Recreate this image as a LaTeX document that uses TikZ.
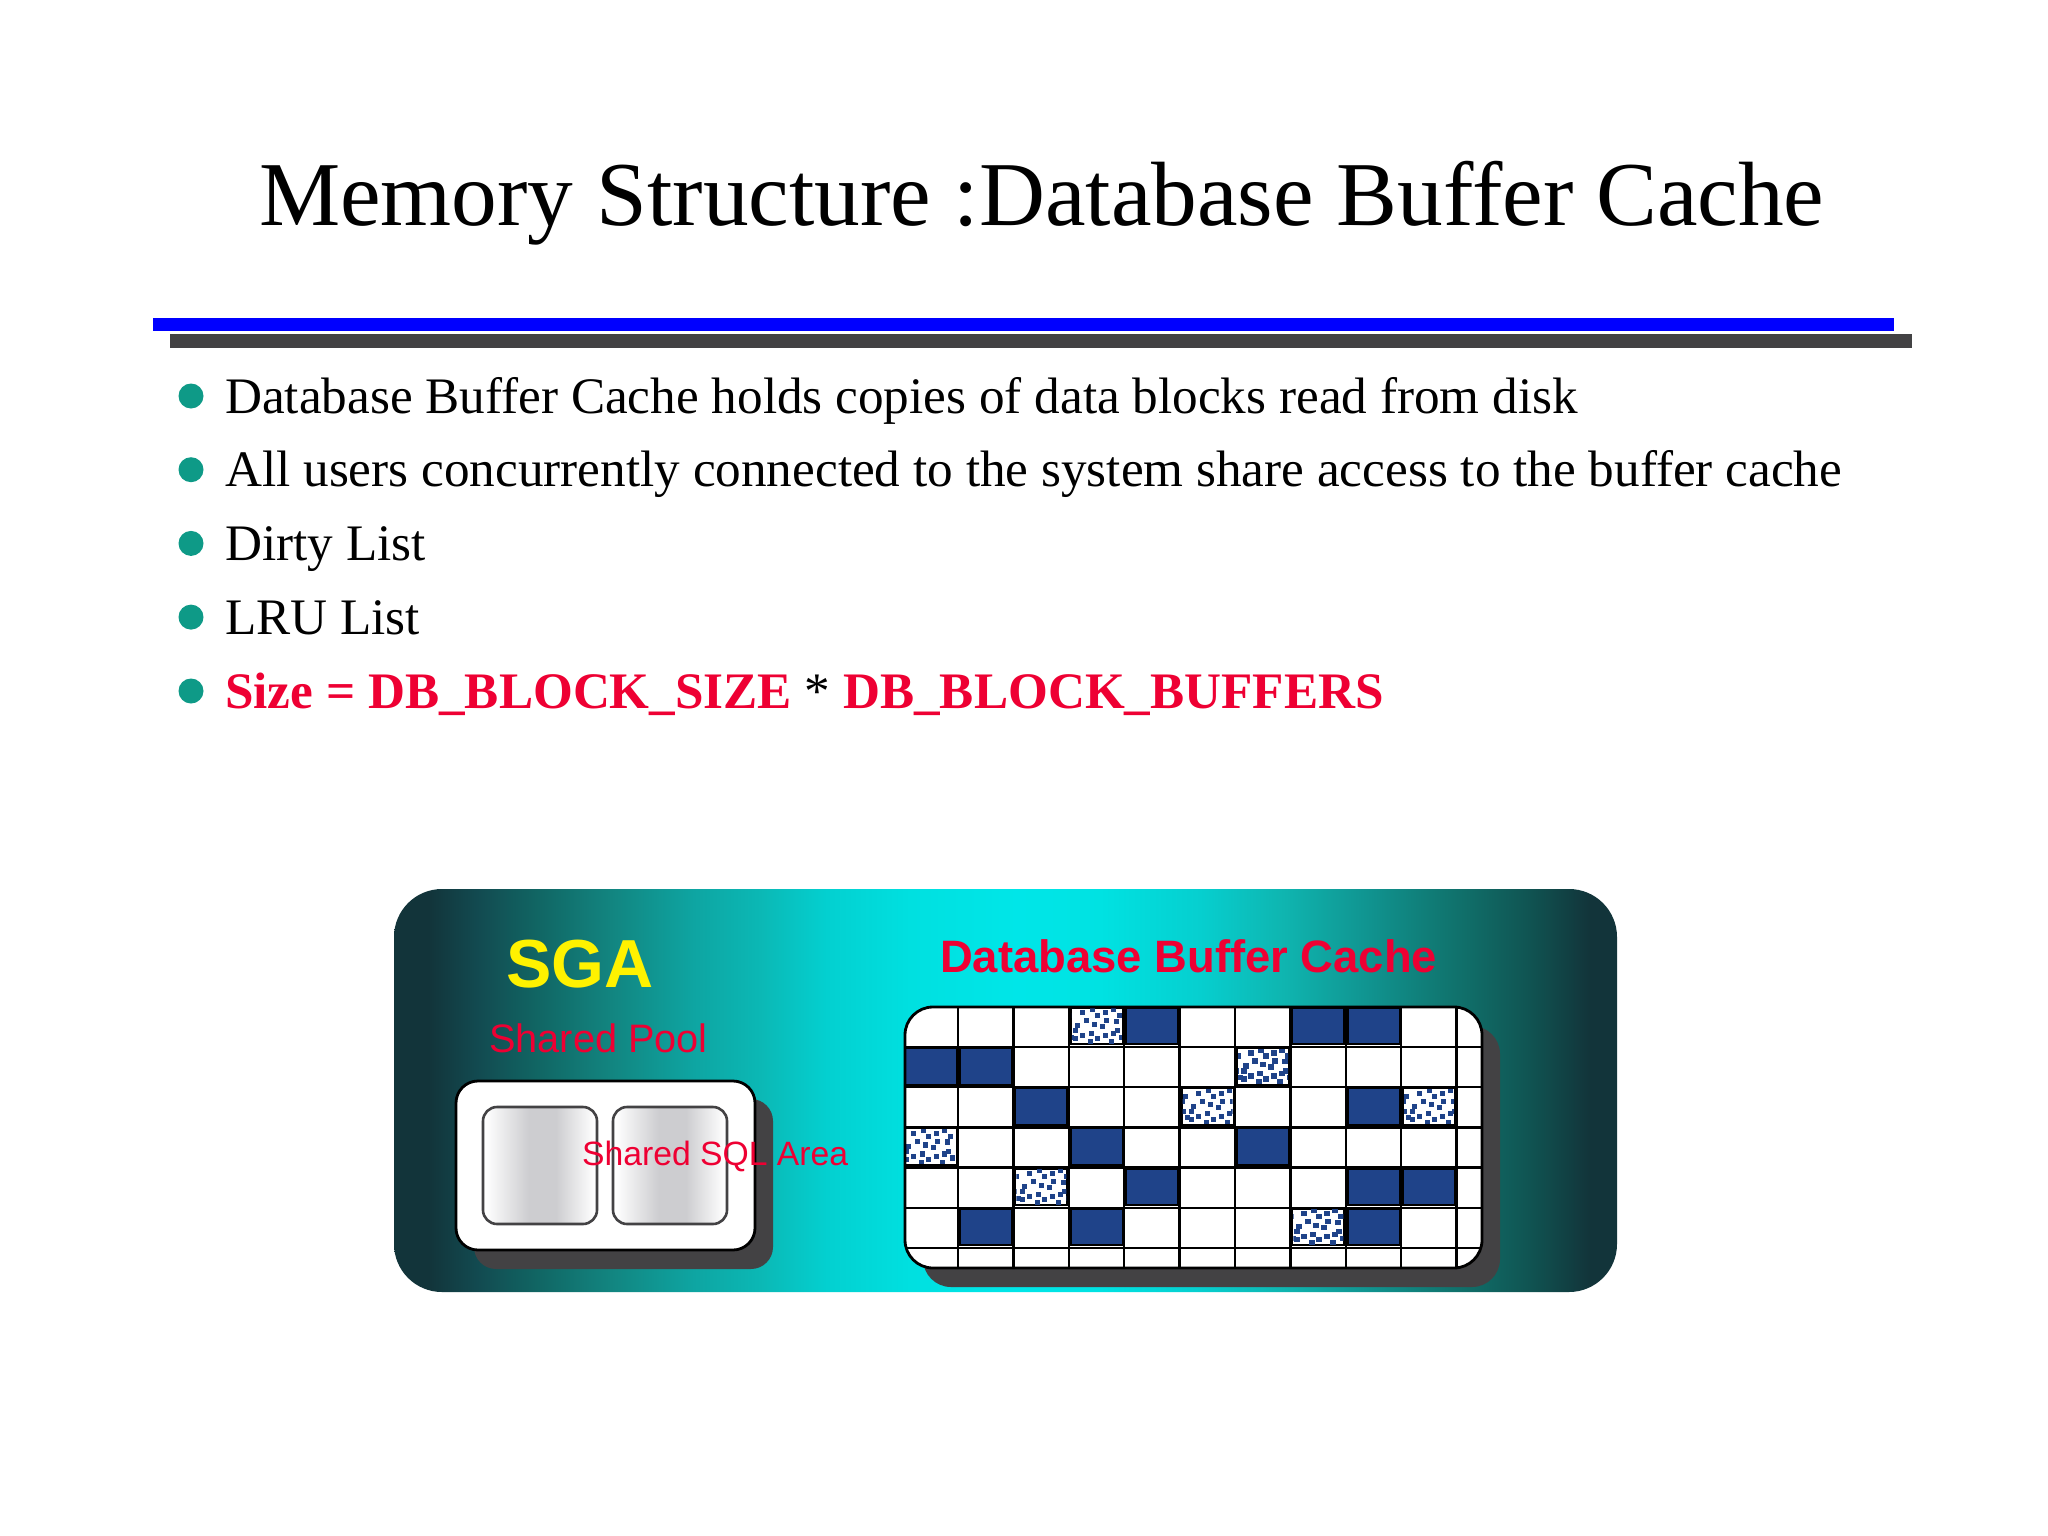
\documentclass[tikz,border=0pt]{standalone}
\usepackage{fontspec}
\setmainfont{Liberation Serif}
\setsansfont{Liberation Sans}
\definecolor{teal1}{HTML}{0E9A87}
\definecolor{redt}{HTML}{EE0033}
\definecolor{cellblue}{HTML}{1F4389}
\definecolor{shadowg}{HTML}{434244}
\definecolor{c0}{HTML}{12343A}
\definecolor{c1}{HTML}{124A50}
\definecolor{c2}{HTML}{116563}
\definecolor{c3}{HTML}{128580}
\definecolor{c4}{HTML}{0EA5A2}
\definecolor{c5}{HTML}{0BB8B5}
\definecolor{c6}{HTML}{03D0D0}
\definecolor{c7}{HTML}{00E0E0}
\definecolor{c8}{HTML}{00E6E8}
\definecolor{c9}{HTML}{00E2E2}
\definecolor{c10}{HTML}{06CFCF}
\definecolor{c11}{HTML}{0FB5B0}
\definecolor{c12}{HTML}{10928E}
\definecolor{c13}{HTML}{107670}
\definecolor{c14}{HTML}{105452}
\definecolor{c15}{HTML}{12343A}
\definecolor{hv}{HTML}{CDCDD0}
\pgfdeclarehorizontalshading{sgabar}{100bp}{
 color(0bp)=(c0);color(26.4bp)=(c0);color(28.4bp)=(c1);color(30.8bp)=(c2);color(33.87bp)=(c3);
 color(37.26bp)=(c4);color(39.96bp)=(c5);color(42.7bp)=(c6);color(46.1bp)=(c7);color(50.55bp)=(c8);
 color(53.86bp)=(c9);color(57.95bp)=(c10);color(61.35bp)=(c11);color(65bp)=(c12);color(68bp)=(c13);
 color(71.4bp)=(c14);color(73.9bp)=(c15);color(100bp)=(c15)}
\pgfdeclarehorizontalshading{silver}{100bp}{
 color(0bp)=(white);color(26bp)=(white);color(45bp)=(hv);color(57bp)=(hv);color(74bp)=(white);color(100bp)=(white)}
\tikzset{
 x=1pt,y=-1pt,
 bodytext/.style={anchor=base west,inner sep=0pt,font=\fontsize{51.2}{51.2}\selectfont},
 bulletdot/.style={circle,fill=teal1,inner sep=0pt,minimum size=25pt},
 panel/.style={rounded corners=22pt,fill=white,draw=black,line width=2.8pt},
 inner/.style={rounded corners=14pt,shading=silver,draw=shadowg,line width=2.6pt},
 shadowbox/.style={rounded corners=22pt,fill=shadowg},
 sanslabel/.style={anchor=base west,inner sep=0pt,text=redt},
}
\begin{document}
\begin{tikzpicture}
\useasboundingbox (0,0) rectangle (2048,1536);
\fill[white] (0,0) rectangle (2048,1536);
\node[anchor=base west,inner sep=0pt,font=\fontsize{91.3}{91.3}\selectfont] (title) at (259,225) {Memory Structure :Database Buffer Cache};
\fill[blue] (153,318) rectangle (1894,331);
\fill[shadowg] (170,334) rectangle (1912,348);
\foreach \i/\t in {0/Database Buffer Cache holds copies of data blocks read from disk,
  1/All users concurrently connected to the system share access to the buffer cache,
  2/Dirty List,3/LRU List}{
  \node[bulletdot] (b\i) at (191,396+73.7*\i) {};
  \node[bodytext] (t\i) at (225,413+73.7*\i) {\t};
}
\node[bulletdot] (b4) at (191,691) {};
\node[bodytext] (t4) at (225,708) {\bfseries\textcolor{redt}{Size = DB\_BLOCK\_SIZE} {\mdseries *} \textcolor{redt}{DB\_BLOCK\_BUFFERS}};
% SGA
\shade[rounded corners=48pt,shading=sgabar] (394,889) rectangle (1617,1292);
\fill[shadowbox] (474,1099) rectangle (773,1269);
\draw[panel] (456,1081) rectangle (755,1250);
\draw[inner] (483,1107) rectangle (597,1224);
\draw[inner] (613,1107) rectangle (727,1224);
\node[anchor=base west,inner sep=0pt,font=\sffamily\bfseries\fontsize{68}{68}\selectfont,text=yellow] (sga) at (506,987) {SGA};
\node[sanslabel,font=\sffamily\fontsize{39.7}{39.7}\selectfont] (pool) at (489,1052) {Shared Pool};
\node[sanslabel,font=\sffamily\fontsize{33.7}{33.7}\selectfont] (sql) at (582,1165) {Shared SQL Area};
\node[sanslabel,font=\sffamily\bfseries\fontsize{45.4}{45.4}\selectfont] (dbc) at (940,972) {Database Buffer Cache};
% grid
\fill[shadowbox,rounded corners=28pt] (923,1026) rectangle (1500,1287);
\fill[white,rounded corners=28pt] (905,1007) rectangle (1482,1268);
\begin{scope}
\clip[rounded corners=28pt] (905,1007) rectangle (1482,1268);
\foreach \c/\r in {4/0,7/0,8/0,0/1,1/1,2/2,8/2,3/3,6/3,4/4,8/4,9/4,1/5,3/5,8/5}{
  \pgfmathsetmacro\xa{902.6+55.4*\c+3}
  \pgfmathsetmacro\ya{1006.8+40.2*\r+2}
  \fill[black] (\xa-2,\ya-2) rectangle ++(53.5,38.5);
  \fill[cellblue] (\xa,\ya) rectangle ++(50,34.5);
}
\foreach \c/\r in {3/0,6/1,5/2,9/2,0/3,2/4,7/5}{
  \pgfmathsetmacro\xa{902.6+55.4*\c+3}
  \pgfmathsetmacro\ya{1006.8+40.2*\r+2}
  \fill[black] (\xa-2,\ya-2) rectangle ++(53.5,38.5);
  \fill[white] (\xa,\ya) rectangle ++(50,34.5);
  \begin{scope}
  \clip (\xa,\ya) rectangle ++(50,34.5);
  \pgfmathsetmacro\sx{int(mod(\c*3,4))*2.5}
  \foreach \mx/\my in {8/4,31/4,18/1,39/1,23/7,45/7,12/12,32/12,42/12.5,20/15.5,28/18,3/17,43/22,1/22,8/27,31/27,17/24.5,39/24.5,23/30,1/30,47/28.5,16/33,37/33}{
    \fill[cellblue] (\xa+\mx+\sx-2.6,\ya+\my-2.6) rectangle ++(5.2,5.2);
    \fill[cellblue] (\xa+\mx+\sx-52.6,\ya+\my-2.6) rectangle ++(5.2,5.2);
  }
  \end{scope}
}
\foreach \c in {1,...,10}{\pgfmathsetmacro\vx{902.6+55.4*\c}\draw[line width=2.5pt] (\vx,1007) -- (\vx,1268);}
\foreach \r in {1,...,6}{\pgfmathsetmacro\hy{1006.8+40.2*\r}\draw[line width=2.5pt] (905,\hy) -- (1482,\hy);}
\end{scope}
\draw[rounded corners=28pt,line width=2.8pt] (905,1007) rectangle (1482,1268);
\end{tikzpicture}
\end{document}
